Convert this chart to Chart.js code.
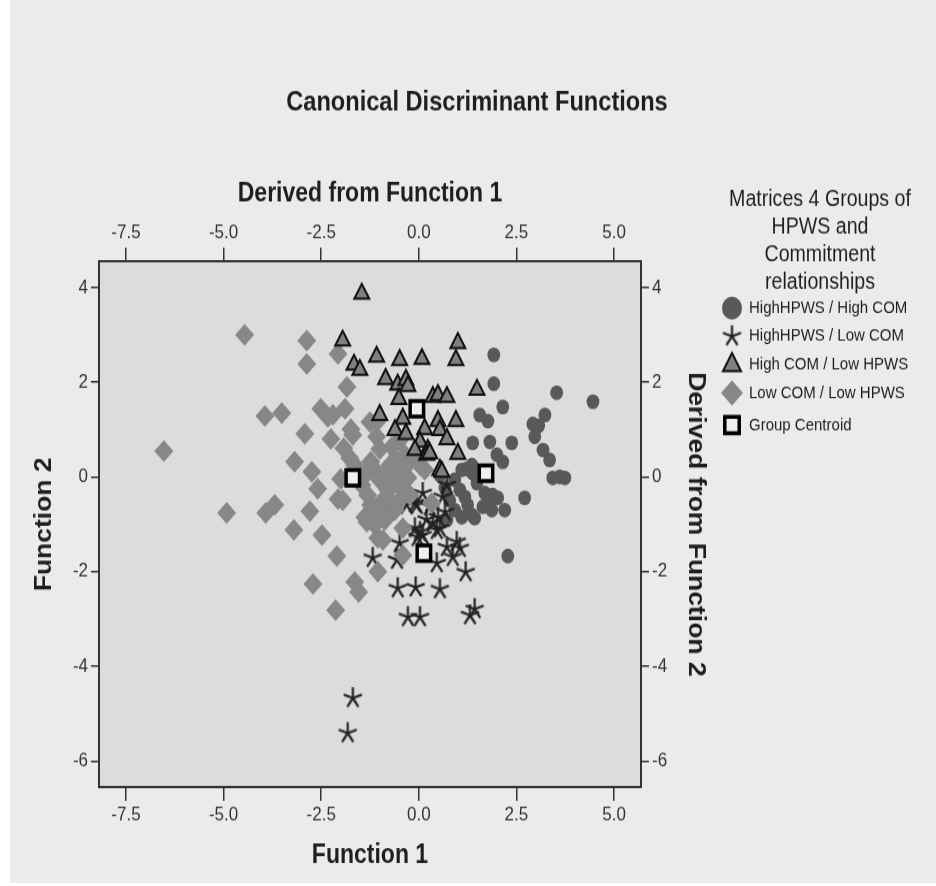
<!DOCTYPE html>
<html>
<head>
<meta charset="utf-8">
<script src="https://cdn.jsdelivr.net/npm/chart.js@4.4.1/dist/chart.umd.min.js"></script>
<style>
  html, body { margin: 0; padding: 0; background: #ffffff; overflow: hidden; }
  #panel { position: absolute; left: 10px; top: 0; width: 926px; height: 883px; background: #ebebeb; }
  /* the source picture is stretched vertically, so the canvas is too */
  #wrap { position: absolute; left: 0; top: 0; width: 936px; height: 770px;
          transform: scaleY(1.150649); transform-origin: 0 0; }
</style>
</head>
<body>
<div id="panel"></div>
<div id="wrap"><canvas id="chart" width="936" height="770"></canvas></div>
<script>
// axis ranges and tick labels
const xRange = [-8.19, 5.69];
const yRange = [-6.55, 4.55];
const xTicks = [-7.5, -5.0, -2.5, 0.0, 2.5, 5.0];
const yTicks = [-6, -4, -2, 0, 2, 4];

const groupLabels = [
  "HighHPWS / High COM",
  "HighHPWS / Low COM",
  "High COM / Low HPWS",
  "Low COM / Low HPWS",
  "Group Centroid"
];
const legendTitle = ["Matrices 4 Groups of", "HPWS and", "Commitment", "relationships"];

// HighHPWS / High COM (circles)
const highHighX = [1.92, 1.92, 2.15, 3.53, 4.46, 1.56, 1.77, 3.23, 2.92, 3.07, 2.97, 1.38, 1.82, 2.38, 3.18,
  3.35, 2.0, 2.15, 3.43, 3.61, 3.74, 1.36, 1.38, 1.49, 1.05, 1.18, 1.25, 1.69, 1.89, 2.02, 1.82, 1.64, 1.87,
  2.2, 2.71, 0.92, 1.1, 1.36, 1.43, 2.28, 0.79, 0.67, 0.92, 0.54, 1.1, 0.72, 1.23];
const highHighY = [2.58, 1.97, 1.48, 1.78, 1.59, 1.31, 1.18, 1.31, 1.12, 1.08, 0.85, 0.72, 0.74, 0.72, 0.57,
  0.36, 0.47, 0.32, -0.02, 0.0, -0.02, 0.25, 0.08, -0.13, -0.27, -0.42, -0.59, -0.34, -0.38, -0.44, -0.53, -0.63, -0.70,
  -0.70, -0.44, -0.70, -0.85, -0.80, -0.87, -1.67, -0.49, -0.23, -0.06, 0.04, 0.15, -0.91, 0.17];

// HighHPWS / Low COM (stars)
const highLowX = [-1.69, -1.82, -1.18, -0.56, 0.46, 1.2, -0.54, -0.08, 0.54, -0.28, 0.03, 1.31, 1.43, -0.79,
  -0.31, -0.10, 0.1, 0.61, 0.67, -0.1, 0.03, 0.1, -0.03, 0.36, 0.46, 0.54, -0.49, 0.72, 0.97, 1.05, 0.87, 0.49,
  0.72, 0.28, 0.2, -0.05];
const highLowY = [-4.67, -5.41, -1.71, -1.75, -1.82, -2.01, -2.35, -2.33, -2.37, -2.96, -2.96, -2.92, -2.79, -0.70,
  -0.59, -0.55, -0.34, -0.42, -0.74, -1.08, -1.16, -1.23, -1.27, -0.97, -1.12, -1.08, -1.4, -1.48, -1.37, -1.5, -1.69, -0.85,
  -0.17, -0.62, -0.9, -0.59];

// High COM / Low HPWS (triangles)
const comHighX = [-1.46, -1.95, 1.0, -1.08, -0.49, 0.08, 0.95, -1.66, -1.51, -0.85, -0.54, -0.33, -0.28, 1.49,
  -0.51, 0.36, 0.49, 0.72, -1.0, -0.41, -0.61, -0.33, 0.15, 0.49, 0.54, 0.72, 0.95, 0.03, -0.10, 0.23, 0.20,
  1.0, 0.54, 0.28, 0.59];
const comHighY = [3.87, 2.88, 2.83, 2.54, 2.47, 2.49, 2.47, 2.37, 2.26, 2.07, 1.95, 2.05, 1.92, 1.84,
  1.65, 1.69, 1.73, 1.69, 1.31, 1.23, 0.99, 0.91, 1.01, 1.18, 0.99, 0.80, 1.18, 0.74, 0.57, 0.57, 0.47,
  0.49, 0.15, 0.5, 0.11];

// Low COM / Low HPWS (diamonds)
const lowLowX = [-4.46, -2.87, -2.87, -2.07, -1.84, -3.94, -3.51, -2.51, -2.33, -2.20, -1.89, -2.92, -2.25, -1.74,
  -1.69, -1.92, -6.53, -3.18, -2.74, -2.59, -2.07, -1.95, -2.0, -1.23, -4.92, -3.92, -3.69, -2.79, -3.2, -2.48,
  -2.1, -2.71, -1.64, -1.54, -2.13, -1.38, -1.23, -1.05, -0.92, -1.05, -0.41, -1.33, 0.33, -0.41, -1.25, -1.08,
  -1.08, -1.13, -1.0, -0.87, -0.74, -0.61, -0.49, -0.36, -0.23, -0.10, 0.03, 0.15, -0.79, -0.67, -0.54, -0.41,
  -0.28, -0.92, -1.05, -1.2, -1.31, -0.74, -0.61, -0.87, -1.13, -0.49, -0.23, -1.46, -1.38, -1.64, -1.77, -1.0,
  -0.49, -0.69];
const lowLowY = [3.0, 2.88, 2.39, 2.60, 1.90, 1.29, 1.35, 1.44, 1.27, 1.31, 1.44, 0.91, 0.80, 1.01,
  0.89, 0.61, 0.55, 0.32, 0.11, -0.25, -0.47, -0.49, -0.04, 0.32, -0.76, -0.76, -0.59, -0.72, -1.12, -1.23,
  -1.67, -2.26, -2.22, -2.43, -2.81, -0.85, -0.59, -1.29, -1.33, -2.0, -1.65, -0.95, -0.55, -1.08, 1.16, 0.85,
  1.16, 0.15, -0.06, 0.04, 0.25, 0.36, 0.15, 0.47, 0.32, 0.40, 0.25, 0.15, -0.27, -0.17, -0.06, -0.27,
  -0.02, -0.49, -0.70, -0.59, -0.38, -0.49, -0.70, -0.91, -1.01, -0.49, -0.38, -0.17, 0.04, 0.25, 0.40, 0.59,
  0.78, 0.63];

// group centroids
const centroidX = [1.72, 0.13, -0.05, -1.69];
const centroidY = [0.08, -1.61, 1.44, -0.02];

const FONT = "'Liberation Sans', Arial, sans-serif";
const TEXT = "#1e1e1e";

function toPoints(xs, ys) {
  return xs.map((x, i) => ({ x, y: ys[i] }));
}

function makeStar(size, color, width) {
  const c = document.createElement("canvas");
  c.width = c.height = size;
  const g = c.getContext("2d");
  const m = size / 2;
  const r = m - 1;
  g.strokeStyle = color;
  g.lineWidth = width;
  g.lineCap = "butt";
  g.beginPath();
  for (let k = 0; k < 5; k++) {
    const a = -Math.PI / 2 + (k * 2 * Math.PI) / 5;
    g.moveTo(m, m);
    g.lineTo(m + r * Math.cos(a), m + r * Math.sin(a));
  }
  g.stroke();
  return c;
}

const starImg = makeStar(21, "#202020", 2.2);

const plotBackground = {
  id: "plotBackground",
  beforeDraw(chart) {
    const { ctx, chartArea: a } = chart;
    ctx.save();
    ctx.fillStyle = "#dcdcdc";
    ctx.fillRect(a.left, a.top, a.right - a.left, a.bottom - a.top);
    ctx.restore();
  }
};

// legend beside the plot, markers taken from the datasets
const sideLegend = {
  id: "sideLegend",
  afterDraw(chart) {
    const ctx = chart.ctx;
    ctx.save();
    ctx.fillStyle = TEXT;
    ctx.font = `19.6px ${FONT}`;
    ctx.textAlign = "center";
    ctx.textBaseline = "middle";
    legendTitle.forEach((line, i) => ctx.fillText(line, 820, 174 + i * 23.8));

    const rows = [267.7, 292.2, 317.2, 341.6, 369.4];
    const legendRadius = [10, 10, 10.4, 11, 10.2];
    ctx.font = `15px ${FONT}`;
    chart.data.datasets.forEach((ds, i) => {
      const y = rows[i];
      ctx.save();
      ctx.fillStyle = ds.backgroundColor;
      ctx.strokeStyle = ds.borderColor;
      ctx.lineWidth = ds.borderWidth;
      Chart.helpers.drawPoint(ctx, {
        pointStyle: ds.pointStyle,
        radius: legendRadius[i],
        borderWidth: ds.borderWidth,
        rotation: 0
      }, 732, y);
      ctx.restore();
      ctx.fillStyle = TEXT;
      ctx.textAlign = "left";
      ctx.fillText(ds.label, 749, y);
    });
    ctx.restore();
  }
};

function axisTicks(values) {
  return (scale) => {
    scale.ticks = values.map((v) => ({ value: v }));
  };
}

const tickFont = { family: FONT, size: 17 };
const titleFont = { family: FONT, size: 23.6, weight: "bold" };
const axisTitleFont = { family: FONT, size: 23, weight: "bold" };

const gridStyle = (len) => ({
  drawOnChartArea: false,
  drawTicks: true,
  tickLength: len,
  color: "#333333",
  lineWidth: 1.5
});
const borderStyle = { display: true, color: "#333333", width: 2 };

new Chart(document.getElementById("chart"), {
  type: "scatter",
  data: {
    datasets: [
      {
        label: groupLabels[0],
        data: toPoints(highHighX, highHighY),
        pointStyle: "circle",
        radius: 6.4,
        backgroundColor: "#595959",
        borderColor: "#595959",
        borderWidth: 0,
        order: 4
      },
      {
        label: groupLabels[1],
        data: toPoints(highLowX, highLowY),
        pointStyle: starImg,
        radius: 10,
        backgroundColor: "#202020",
        borderColor: "#202020",
        borderWidth: 0,
        order: 3
      },
      {
        label: groupLabels[2],
        data: toPoints(comHighX, comHighY),
        pointStyle: "triangle",
        radius: 8.6,
        backgroundColor: "#808080",
        borderColor: "#111111",
        borderWidth: 2,
        order: 1
      },
      {
        label: groupLabels[3],
        data: toPoints(lowLowX, lowLowY),
        pointStyle: "rectRot",
        radius: 9.5,
        backgroundColor: "#878787",
        borderColor: "#878787",
        borderWidth: 0,
        order: 2
      },
      {
        label: groupLabels[4],
        data: toPoints(centroidX, centroidY),
        pointStyle: "rect",
        radius: 9.5,
        backgroundColor: "#f0f0f0",
        borderColor: "#000000",
        borderWidth: 3.5,
        order: 0
      }
    ]
  },
  options: {
    responsive: false,
    animation: false,
    events: [],
    layout: { padding: { left: 18, right: 0, top: 0, bottom: 0 } },
    plugins: {
      legend: { display: false },
      tooltip: { enabled: false },
      title: {
        display: true,
        text: "Canonical Discriminant Functions",
        color: TEXT,
        font: titleFont,
        padding: { top: 75, bottom: 10 }
      }
    },
    scales: {
      x: {
        type: "linear",
        position: "bottom",
        min: xRange[0],
        max: xRange[1],
        afterBuildTicks: axisTicks(xTicks),
        afterFit: (s) => { s.height = 86; },
        grid: gridStyle(12),
        border: borderStyle,
        ticks: { callback: (v) => v.toFixed(1), color: "#333333", font: tickFont, padding: 2, maxRotation: 0, autoSkip: false },
        title: { display: true, text: "Function 1", color: TEXT, font: axisTitleFont, padding: { bottom: 13 } }
      },
      x2: {
        type: "linear",
        position: "top",
        min: xRange[0],
        max: xRange[1],
        afterBuildTicks: axisTicks(xTicks),
        afterFit: (s) => { s.height = 114; },
        grid: gridStyle(12),
        border: borderStyle,
        ticks: { callback: (v) => v.toFixed(1), color: "#333333", font: tickFont, padding: 3, maxRotation: 0, autoSkip: false },
        title: { display: true, text: "Derived from Function 1", color: TEXT, font: axisTitleFont, padding: { top: 42 } }
      },
      y: {
        type: "linear",
        position: "left",
        min: yRange[0],
        max: yRange[1],
        afterBuildTicks: axisTicks(yTicks),
        afterFit: (s) => { s.width = 81; },
        grid: gridStyle(8),
        border: borderStyle,
        ticks: { color: "#333333", font: tickFont, padding: 3, autoSkip: false },
        title: { display: true, text: "Function 2", color: TEXT, font: axisTitleFont, padding: { top: 13 } }
      },
      y2: {
        type: "linear",
        position: "right",
        min: yRange[0],
        max: yRange[1],
        afterBuildTicks: axisTicks(yTicks),
        afterFit: (s) => { s.width = 295; },
        grid: gridStyle(8),
        border: borderStyle,
        ticks: { color: "#333333", font: tickFont, padding: 3, autoSkip: false },
        title: { display: true, text: "Derived from Function 2", color: TEXT, font: axisTitleFont, padding: { top: 227 } }
      }
    }
  },
  plugins: [plotBackground, sideLegend]
});
</script>
</body>
</html>
